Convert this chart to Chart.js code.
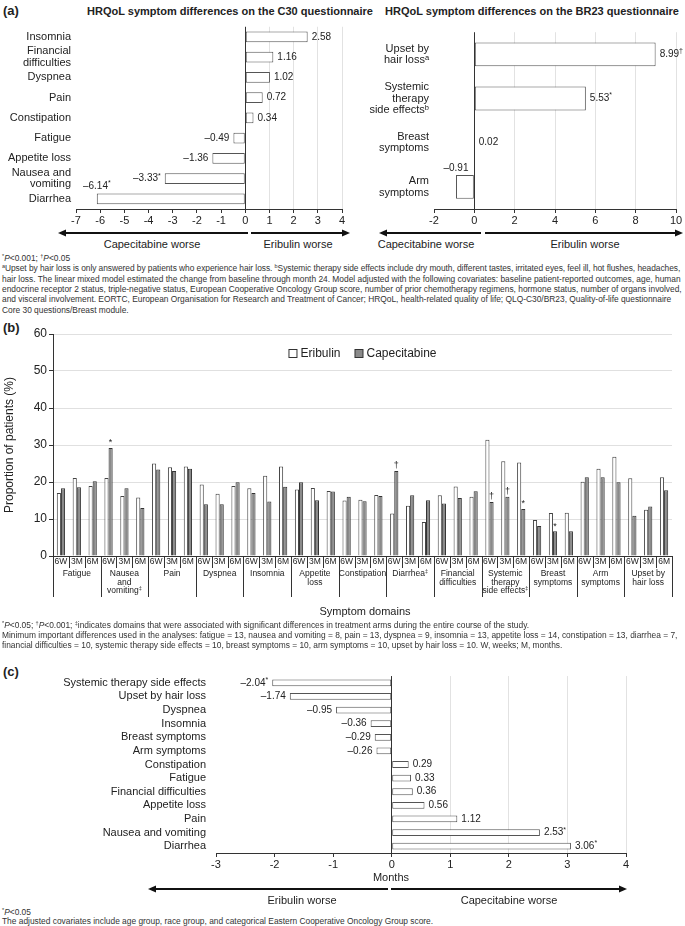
<!DOCTYPE html>
<html>
<head>
<meta charset="utf-8">
<script src="https://cdn.jsdelivr.net/npm/chart.js@4.4.1/dist/chart.umd.min.js"></script>
<style>
  html, body { margin: 0; padding: 0; background: #fff; }
  body { width: 685px; height: 926px; position: relative; overflow: hidden;
         font-family: "Liberation Sans", Arial, sans-serif; color: #222; }
  canvas { position: absolute; }
  svg { position: absolute; left: 0; top: 0; }
  .t { position: absolute; white-space: nowrap; line-height: 10px; }
  .fn { font-size: 8.4px; left: 2px; color: #333; }
  .fn i { font-style: italic; }
  .fn sup { font-size: 5.5px; vertical-align: 3px; line-height: 0; }
  .panel { font-weight: bold; font-size: 13px; left: 3px; line-height: 14px; }
  .ttl { font-weight: bold; font-size: 11px; transform: translateX(-50%); line-height: 12px; }
  .lbl { font-size: 11px; transform: translateX(-50%); line-height: 12px; }
</style>
</head>
<body>

<!-- panel (a) -->
<div class="t panel" style="top:4px">(a)</div>
<div class="t ttl" style="left:230px; top:5px">HRQoL symptom differences on the C30 questionnaire</div>
<div class="t ttl" style="left:532px; top:5px">HRQoL symptom differences on the BR23 questionnaire</div>
<canvas id="c30Chart" width="352" height="212" style="left:0; top:16px"></canvas>
<canvas id="br23Chart" width="333" height="212" style="left:352px; top:16px"></canvas>
<div class="t lbl" style="left:152px; top:238px">Capecitabine worse</div>
<div class="t lbl" style="left:298px; top:238px">Eribulin worse</div>
<div class="t lbl" style="left:426px; top:238px">Capecitabine worse</div>
<div class="t lbl" style="left:585px; top:238px">Eribulin worse</div>

<div class="t fn" style="top:253px"><sup>*</sup><i>P</i>&lt;0.001; <sup>†</sup><i>P</i>&lt;0.05</div>
<div class="t fn" style="top:263px; letter-spacing:-0.05px"><sup>a</sup>Upset by hair loss is only answered by patients who experience hair loss. <sup>b</sup>Systemic therapy side effects include dry mouth, different tastes, irritated eyes, feel ill, hot flushes, headaches,</div>
<div class="t fn" style="top:274px">hair loss. The linear mixed model estimated the change from baseline through month 24. Model adjusted with the following covariates: baseline patient-reported outcomes, age, human</div>
<div class="t fn" style="top:284px">endocrine receptor 2 status, triple-negative status, European Cooperative Oncology Group score, number of prior chemotherapy regimens, hormone status, number of organs involved,</div>
<div class="t fn" style="top:294px">and visceral involvement. EORTC, European Organisation for Research and Treatment of Cancer; HRQoL, health-related quality of life; QLQ-C30/BR23, Quality-of-life questionnaire</div>
<div class="t fn" style="top:305px">Core 30 questions/Breast module.</div>

<!-- panel (b) -->
<div class="t panel" style="top:321px">(b)</div>
<canvas id="pctChart" width="685" height="300" style="left:0; top:318px"></canvas>
<div class="t" style="left:365px; top:605px; font-size:11px; transform:translateX(-50%); line-height:12px">Symptom domains</div>
<div class="t fn" style="top:620px"><sup>*</sup><i>P</i>&lt;0.05; <sup>†</sup><i>P</i>&lt;0.001; <sup>‡</sup>indicates domains that were associated with significant differences in treatment arms during the entire course of the study.</div>
<div class="t fn" style="top:630px">Minimum important differences used in the analyses: fatigue = 13, nausea and vomiting = 8, pain = 13, dyspnea = 9, insomnia = 13, appetite loss = 14, constipation = 13, diarrhea = 7,</div>
<div class="t fn" style="top:640px">financial difficulties = 10, systemic therapy side effects = 10, breast symptoms = 10, arm symptoms = 10, upset by hair loss = 10. W, weeks; M, months.</div>

<!-- panel (c) -->
<div class="t panel" style="top:665px">(c)</div>
<canvas id="ttdChart" width="685" height="212" style="left:0; top:660px"></canvas>
<div class="t lbl" style="left:391px; top:871px">Months</div>
<div class="t lbl" style="left:302px; top:894px">Eribulin worse</div>
<div class="t lbl" style="left:509px; top:894px">Capecitabine worse</div>
<div class="t fn" style="top:907px"><sup>*</sup><i>P</i>&lt;0.05</div>
<div class="t fn" style="top:916px">The adjusted covariates include age group, race group, and categorical Eastern Cooperative Oncology Group score.</div>

<svg width="685" height="926">
  <g stroke="#111" stroke-width="2">
    <line x1="64" y1="233" x2="248" y2="233"/>
    <line x1="251" y1="233" x2="344" y2="233"/>
    <line x1="385" y1="233" x2="481" y2="233"/>
    <line x1="485" y1="233" x2="677" y2="233"/>
    <line x1="154" y1="889" x2="388" y2="889"/>
    <line x1="391" y1="889" x2="621" y2="889"/>
  </g>
  <g fill="#111">
    <polygon points="58,233 66,229.5 66,236.5"/>
    <polygon points="350,233 342,229.5 342,236.5"/>
    <polygon points="379,233 387,229.5 387,236.5"/>
    <polygon points="683,233 675,229.5 675,236.5"/>
    <polygon points="148,889 156,885.5 156,892.5"/>
    <polygon points="627,889 619,885.5 619,892.5"/>
  </g>
</svg>

<script>
// ---- (a) C30 questionnaire ----
const c30Labels = ['Insomnia', ['Financial', 'difficulties'], 'Dyspnea', 'Pain', 'Constipation',
  'Fatigue', 'Appetite loss', ['Nausea and', 'vomiting'], 'Diarrhea'];
const c30Diff = [2.58, 1.16, 1.02, 0.72, 0.34, -0.49, -1.36, -3.33, -6.14];
const c30Sig = ['', '', '', '', '', '', '', '*', '*'];
const c30Ticks = [-7, -6, -5, -4, -3, -2, -1, 0, 1, 2, 3, 4];

// ---- (a) BR23 questionnaire ----
const br23Labels = [['Upset by', 'hair loss\u1d43'], ['Systemic', 'therapy', 'side effects\u1d47'],
  ['Breast', 'symptoms'], ['Arm', 'symptoms']];
const br23Diff = [8.99, 5.53, 0.02, -0.91];
const br23Sig = ['\u2020', '*', '', ''];
const br23Ticks = [-2, 0, 2, 4, 6, 8, 10];

// ---- (b) proportion of patients with deterioration ----
const domains = [['Fatigue'], ['Nausea', 'and', 'vomiting\u2021'], ['Pain'], ['Dyspnea'], ['Insomnia'],
  ['Appetite', 'loss'], ['Constipation'], ['Diarrhea\u2021'], ['Financial', 'difficulties'],
  ['Systemic', 'therapy', 'side effects\u2021'], ['Breast', 'symptoms'], ['Arm', 'symptoms'],
  ['Upset by', 'hair loss']];
const timepoints = ['6W', '3M', '6M'];
const eribulinPct = [
  17.0, 21.1, 18.9,  21.1, 16.2, 15.8,  25.0, 24.0, 24.2,  19.3, 16.8, 18.9,
  18.3, 21.7, 24.2,  18.0, 18.4, 17.6,  15.0, 15.2, 16.5,  11.5, 13.6, 9.2,
  16.4, 18.8, 16.0,  31.4, 25.6, 25.3,  9.7, 11.6, 11.7,   20.1, 23.6, 26.8,
  21.0, 12.5, 21.3];
const capecitabinePct = [
  18.3, 18.6, 20.2,  29.2, 18.3, 13.0,  23.4, 23.0, 23.6,  14.0, 14.0, 19.9,
  17.0, 14.7, 18.7,  19.9, 15.1, 17.4,  16.0, 14.8, 16.2,  23.0, 16.4, 15.1,
  14.2, 15.7, 17.5,  14.6, 16.0, 12.7,  8.1, 6.7, 6.7,     21.3, 21.3, 19.9,
  10.9, 13.4, 17.8];
const capecitabineSig = [
  '', '', '',  '*', '', '',  '', '', '',  '', '', '',  '', '', '',  '', '', '',  '', '', '',
  '\u2020', '', '',  '', '', '',  '\u2020', '\u2020', '*',  '', '*', '',  '', '', '',  '', '', ''];
const pctTicks = [0, 10, 20, 30, 40, 50, 60];

// ---- (c) time to deterioration difference ----
const ttdLabels = ['Systemic therapy side effects', 'Upset by hair loss', 'Dyspnea', 'Insomnia',
  'Breast symptoms', 'Arm symptoms', 'Constipation', 'Fatigue', 'Financial difficulties',
  'Appetite loss', 'Pain', 'Nausea and vomiting', 'Diarrhea'];
const ttdDiff = [-2.04, -1.74, -0.95, -0.36, -0.29, -0.26, 0.29, 0.33, 0.36, 0.56, 1.12, 2.53, 3.06];
const ttdSig = ['*', '', '', '', '', '', '', '', '', '', '', '*', '*'];
const monthTicks = [-3, -2, -1, 0, 1, 2, 3, 4];

const FONT = '"Liberation Sans", Arial, sans-serif';
const INK = '#222';
Chart.defaults.font.family = FONT;
Chart.defaults.color = INK;

// value labels at the bar ends, with a raised significance mark
const valueLabels = {
  id: 'valueLabels',
  afterDatasetsDraw(chart, args, opts) {
    const ctx = chart.ctx;
    const area = chart.chartArea;
    const values = chart.data.datasets[0].data;
    const size = opts.size || 10;
    ctx.save();
    ctx.fillStyle = INK;
    ctx.textBaseline = 'middle';
    ctx.textAlign = 'left';
    chart.getDatasetMeta(0).data.forEach((bar, i) => {
      const v = values[i];
      const num = (v < 0 ? '\u2013' : '') + Math.abs(v).toFixed(2);
      const mark = opts.marks[i] || '';
      ctx.font = size + 'px ' + FONT;
      const wNum = ctx.measureText(num).width;
      ctx.font = Math.round(size * 0.7) + 'px ' + FONT;
      const wMark = mark ? ctx.measureText(mark).width : 0;
      const w = wNum + wMark;
      let x0, y = bar.y;
      if (v >= 0) {
        x0 = bar.x + 4;
      } else if (bar.x - 4 - w >= area.left) {
        x0 = bar.x - 4 - w;
      } else {
        x0 = bar.x - w / 2;
        y = bar.y - bar.height / 2 - size * 0.7;
      }
      ctx.font = size + 'px ' + FONT;
      ctx.fillText(num, x0, y);
      if (mark) {
        ctx.font = Math.round(size * 0.7) + 'px ' + FONT;
        ctx.fillText(mark, x0 + wNum, y - size * 0.3);
      }
    });
    ctx.restore();
  }
};

function diffChart(id, labels, values, marks, ticks, axisW, labelPad, padRight, lineH, thickness) {
  return new Chart(document.getElementById(id), {
    type: 'bar',
    data: {
      labels: labels,
      datasets: [{
        data: values,
        backgroundColor: '#ffffff',
        borderColor: '#555',
        borderWidth: 1,
        borderSkipped: false,
        categoryPercentage: 1,
        barPercentage: thickness
      }]
    },
    plugins: [valueLabels],
    options: {
      indexAxis: 'y',
      responsive: false,
      animation: false,
      layout: { padding: { top: 7, right: padRight, left: 0, bottom: 0 } },
      plugins: {
        legend: { display: false },
        tooltip: { enabled: false },
        valueLabels: { marks: marks, size: 10 }
      },
      scales: {
        x: {
          min: ticks[0],
          max: ticks[ticks.length - 1],
          ticks: { stepSize: ticks[1] - ticks[0], font: { size: 11 }, padding: 1, color: INK },
          grid: {
            color: c => c.tick.value === 0 ? '#333' : (c.tick.value > 0 ? '#e2e2e2' : 'rgba(0,0,0,0)'),
            tickColor: '#333',
            tickLength: 4
          },
          border: { display: true, color: '#333' },
          afterFit: s => { s.height = 19; }
        },
        y: {
          ticks: { font: { size: 11, lineHeight: lineH }, padding: labelPad, color: INK, autoSkip: false },
          grid: { display: false, drawTicks: false },
          border: { display: false },
          afterFit: s => { s.width = axisW; }
        }
      }
    }
  });
}

diffChart('c30Chart', c30Labels, c30Diff, c30Sig, c30Ticks, 76, 5, 10, 1.05, 0.53);
diffChart('br23Chart', br23Labels, br23Diff, br23Sig, br23Ticks, 82, 5, 9, 1.02, 0.54);
diffChart('ttdChart', ttdLabels, ttdDiff, ttdSig, monthTicks, 216, 10, 59, 1.1, 0.5);

// ---- (b) chart: timepoint boxes, domain labels, legend, significance marks ----
const domainTable = {
  id: 'domainTable',
  afterDraw(chart) {
    const ctx = chart.ctx;
    const area = chart.chartArea;
    const xs = chart.scales.x;
    const n = chart.data.labels.length;
    ctx.save();
    ctx.strokeStyle = '#333';
    ctx.lineWidth = 1;
    ctx.beginPath();
    for (let i = 0; i <= n; i++) {
      let x;
      if (i === 0) x = area.left;
      else if (i === n) x = area.right;
      else x = (xs.getPixelForValue(i - 1) + xs.getPixelForValue(i)) / 2;
      x = Math.round(x) + 0.5;
      const len = i % 3 === 0 ? 41 : 12;
      ctx.moveTo(x, area.bottom);
      ctx.lineTo(x, area.bottom + len);
    }
    ctx.stroke();

    ctx.fillStyle = INK;
    ctx.textAlign = 'center';
    ctx.textBaseline = 'middle';
    domains.forEach((lines, d) => {
      const cx = xs.getPixelForValue(d * 3 + 1);
      lines.forEach((line, k) => {
        const y = area.bottom + 18 + k * 8.5;
        const sup = line.endsWith('\u2021');
        const txt = sup ? line.slice(0, -1) : line;
        ctx.font = '8.5px ' + FONT;
        const w = ctx.measureText(txt).width;
        if (sup) {
          ctx.textAlign = 'left';
          ctx.fillText(txt, cx - w / 2 - 1.5, y);
          ctx.font = '5.5px ' + FONT;
          ctx.fillText('\u2021', cx + w / 2 - 1.5, y - 2.5);
          ctx.textAlign = 'center';
        } else {
          ctx.fillText(txt, cx, y);
        }
      });
    });

    // significance marks above capecitabine bars
    const capMeta = chart.getDatasetMeta(1);
    ctx.font = '9px ' + FONT;
    capecitabineSig.forEach((m, i) => {
      if (!m) return;
      const bar = capMeta.data[i];
      ctx.fillText(m, bar.x, bar.y - 5);
    });

    // legend
    const items = chart.data.datasets.map(ds => ({ label: ds.label, fill: ds.backgroundColor }));
    ctx.font = '12px ' + FONT;
    const sq = 8, gap = 4, space = 14;
    const widths = items.map(it => sq + gap + ctx.measureText(it.label).width);
    const total = widths.reduce((a, b) => a + b, 0) + space;
    let x = (area.left + area.right) / 2 - total / 2;
    const ly = area.top + 19;
    ctx.textAlign = 'left';
    items.forEach((it, k) => {
      ctx.fillStyle = it.fill;
      ctx.fillRect(x + 0.5, ly - sq / 2 + 0.5, sq, sq);
      ctx.strokeStyle = '#333';
      ctx.strokeRect(x + 0.5, ly - sq / 2 + 0.5, sq, sq);
      ctx.fillStyle = INK;
      ctx.fillText(it.label, x + sq + gap, ly + 0.5);
      x += widths[k] + space;
    });
    ctx.restore();
  }
};

const pctLabels = [];
domains.forEach(() => timepoints.forEach(tp => pctLabels.push(tp)));

new Chart(document.getElementById('pctChart'), {
  type: 'bar',
  data: {
    labels: pctLabels,
    datasets: [{
      label: 'Eribulin',
      data: eribulinPct,
      backgroundColor: '#ffffff',
      borderColor: '#444',
      borderWidth: 1,
      borderSkipped: 'bottom',
      categoryPercentage: 0.52,
      barPercentage: 1
    }, {
      label: 'Capecitabine',
      data: capecitabinePct,
      backgroundColor: '#8a8a8a',
      borderColor: '#333',
      borderWidth: 1,
      borderSkipped: 'bottom',
      categoryPercentage: 0.52,
      barPercentage: 1
    }]
  },
  plugins: [domainTable],
  options: {
    responsive: false,
    animation: false,
    layout: { padding: { top: 16, right: 13, left: 0, bottom: 0 } },
    plugins: { legend: { display: false }, tooltip: { enabled: false } },
    scales: {
      x: {
        ticks: { font: { size: 8.5 }, autoSkip: false, maxRotation: 0, padding: 1, color: INK },
        grid: { display: false, drawTicks: false },
        border: { display: true, color: '#333' },
        afterFit: s => { s.height = 62; }
      },
      y: {
        min: pctTicks[0],
        max: pctTicks[pctTicks.length - 1],
        ticks: { stepSize: pctTicks[1] - pctTicks[0], font: { size: 12 }, padding: 2, color: INK },
        grid: { color: '#e0e0e0', tickColor: '#333', tickLength: 4 },
        border: { display: true, color: '#333' },
        title: { display: true, text: 'Proportion of patients (%)', font: { size: 12 }, padding: 2, color: INK },
        afterFit: s => { s.width = 53; }
      }
    }
  }
});
</script>
</body>
</html>
